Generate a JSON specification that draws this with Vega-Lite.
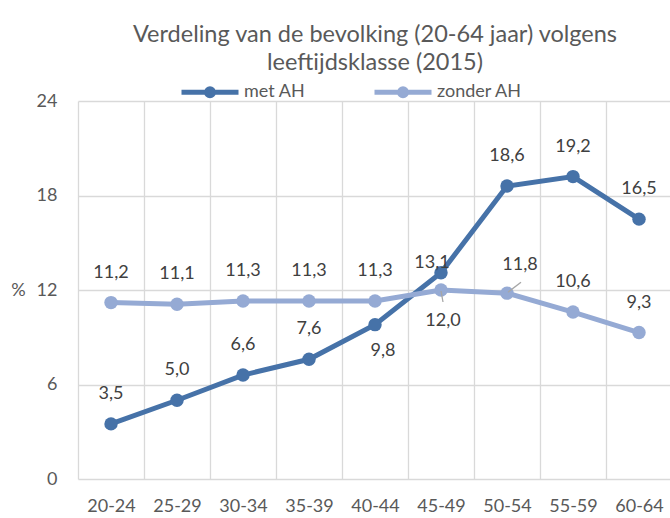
{
  "$schema": "https://vega.github.io/schema/vega-lite/v6.json",
  "autosize": {"type": "none"},
  "padding": {"left": 78, "top": 101, "right": 0, "bottom": 39},
  "width": 594,
  "height": 378,
  "background": "white",
  "title": {
    "text": ["Verdeling van de bevolking (20-64 jaar) volgens", "leeftijdsklasse (2015)"],
    "font": "Lato",
    "fontSize": 23.5,
    "fontWeight": "normal",
    "color": "#595959",
    "anchor": "middle",
    "frame": "group",
    "lineHeight": 28,
    "offset": -13
  },
  "config": {
    "view": {"stroke": null},
    "locale": {"number": {"decimal": ",", "thousands": ".", "grouping": [3], "currency": ["€", ""]}},
    "font": "Lato"
  },
  "data": {
    "values": [
      {"klasse": "20-24", "reeks": "met AH", "v": 3.5},
      {"klasse": "25-29", "reeks": "met AH", "v": 5.0},
      {"klasse": "30-34", "reeks": "met AH", "v": 6.6},
      {"klasse": "35-39", "reeks": "met AH", "v": 7.6},
      {"klasse": "40-44", "reeks": "met AH", "v": 9.8},
      {"klasse": "45-49", "reeks": "met AH", "v": 13.1},
      {"klasse": "50-54", "reeks": "met AH", "v": 18.6},
      {"klasse": "55-59", "reeks": "met AH", "v": 19.2},
      {"klasse": "60-64", "reeks": "met AH", "v": 16.5},
      {"klasse": "20-24", "reeks": "zonder AH", "v": 11.2},
      {"klasse": "25-29", "reeks": "zonder AH", "v": 11.1},
      {"klasse": "30-34", "reeks": "zonder AH", "v": 11.3},
      {"klasse": "35-39", "reeks": "zonder AH", "v": 11.3},
      {"klasse": "40-44", "reeks": "zonder AH", "v": 11.3},
      {"klasse": "45-49", "reeks": "zonder AH", "v": 12.0},
      {"klasse": "50-54", "reeks": "zonder AH", "v": 11.8},
      {"klasse": "55-59", "reeks": "zonder AH", "v": 10.6},
      {"klasse": "60-64", "reeks": "zonder AH", "v": 9.3}
    ]
  },
  "encoding": {
    "x": {
      "field": "klasse",
      "type": "ordinal",
      "sort": null,
      "scale": {"paddingInner": 0, "paddingOuter": 0},
      "axis": {
        "title": null,
        "labelAngle": 0,
        "tickBand": "extent",
        "grid": true,
        "gridColor": "#d9d9d9",
        "gridWidth": 1.3,
        "ticks": false,
        "domain": false,
        "labelFont": "Lato",
        "labelFontSize": 18,
        "labelColor": "#595959",
        "labelPadding": 18
      }
    },
    "y": {
      "field": "v",
      "type": "quantitative",
      "scale": {"domain": [0, 24], "nice": false},
      "axis": {
        "values": [0, 6, 12, 18, 24],
        "title": "%",
        "titleAngle": 0,
        "titleX": -60,
        "titleY": 189,
        "titleAlign": "center",
        "titleBaseline": "middle",
        "titleFont": "Lato",
        "titleFontSize": 18,
        "titleFontWeight": "normal",
        "titleColor": "#595959",
        "grid": true,
        "gridColor": "#d9d9d9",
        "gridWidth": 1.3,
        "ticks": false,
        "domain": false,
        "labelFont": "Lato",
        "labelFontSize": 18,
        "labelColor": "#595959",
        "labelPadding": 21
      }
    },
    "color": {
      "field": "reeks",
      "type": "nominal",
      "scale": {"domain": ["met AH", "zonder AH"], "range": ["#4672a8", "#95aad4"]},
      "legend": {
        "title": null,
        "orient": "none",
        "direction": "horizontal",
        "legendX": 101,
        "legendY": -40,
        "padding": 0,
        "symbolType": "M-1,0L1,0M-0.12,0A0.12,0.12,0,1,1,0.12,0A0.12,0.12,0,1,1,-0.12,0Z",
        "symbolSize": 3249,
        "symbolStrokeWidth": 5,
        "labelFont": "Lato",
        "labelFontSize": 18,
        "labelColor": "#595959",
        "labelOffset": 3,
        "columnPadding": 58,
        "labelLimit": 300,
        "encode": {
          "symbols": {
            "update": {
              "fill": {"scale": "color", "field": "value"},
              "stroke": {"scale": "color", "field": "value"},
              "strokeWidth": {"value": 5},
              "opacity": {"value": 1}
            }
          }
        }
      }
    }
  },
  "layer": [
    {"mark": {"type": "line", "strokeWidth": 5}},
    {"mark": {"type": "circle", "size": 180, "opacity": 1}},
    {
      "transform": [{"filter": "datum.reeks == 'zonder AH' && datum.klasse == '45-49'"}],
      "mark": {"type": "rule", "strokeWidth": 1.3, "xOffset": 0, "yOffset": 1, "x2Offset": 2, "y2Offset": 12},
      "encoding": {"x2": {"field": "klasse"}, "y2": {"field": "v"}, "color": {"value": "#a6a6a6"}}
    },
    {
      "transform": [{"filter": "datum.reeks == 'zonder AH' && datum.klasse == '50-54'"}],
      "mark": {"type": "rule", "strokeWidth": 1.3, "xOffset": 1, "yOffset": -1, "x2Offset": 14, "y2Offset": -11},
      "encoding": {"x2": {"field": "klasse"}, "y2": {"field": "v"}, "color": {"value": "#a6a6a6"}}
    },
    {
      "transform": [{"filter": "!((datum.reeks == 'met AH' && (datum.klasse == '40-44' || datum.klasse == '45-49')) || (datum.reeks == 'zonder AH' && (datum.klasse == '45-49' || datum.klasse == '50-54')))"}],
      "mark": {"type": "text", "dy": -30, "fontSize": 18, "font": "Lato", "color": "#404040"},
      "encoding": {"text": {"field": "v", "type": "quantitative", "format": ".1f"}, "color": {"value": "#404040"}}
    },
    {
      "transform": [{"filter": "datum.reeks == 'met AH' && datum.klasse == '40-44'"}],
      "mark": {"type": "text", "dy": 26, "dx": 8, "fontSize": 18, "font": "Lato"},
      "encoding": {"text": {"field": "v", "type": "quantitative", "format": ".1f"}, "color": {"value": "#404040"}}
    },
    {
      "transform": [{"filter": "datum.reeks == 'met AH' && datum.klasse == '45-49'"}],
      "mark": {"type": "text", "dy": -10, "dx": -9, "fontSize": 18, "font": "Lato"},
      "encoding": {"text": {"field": "v", "type": "quantitative", "format": ".1f"}, "color": {"value": "#404040"}}
    },
    {
      "transform": [{"filter": "datum.reeks == 'zonder AH' && datum.klasse == '45-49'"}],
      "mark": {"type": "text", "dy": 31, "dx": 2, "fontSize": 18, "font": "Lato"},
      "encoding": {"text": {"field": "v", "type": "quantitative", "format": ".1f"}, "color": {"value": "#404040"}}
    },
    {
      "transform": [{"filter": "datum.reeks == 'zonder AH' && datum.klasse == '50-54'"}],
      "mark": {"type": "text", "dy": -28, "dx": 13, "fontSize": 18, "font": "Lato"},
      "encoding": {"text": {"field": "v", "type": "quantitative", "format": ".1f"}, "color": {"value": "#404040"}}
    }
  ]
}
